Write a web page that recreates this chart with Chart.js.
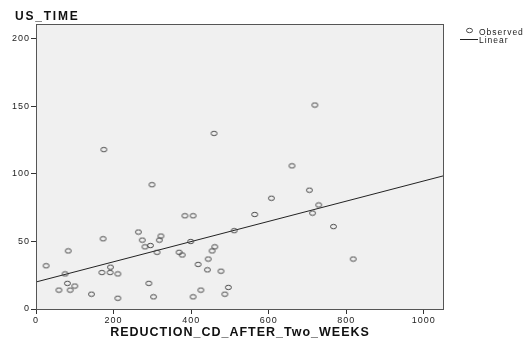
<!DOCTYPE html>
<html>
<head>
<meta charset="utf-8">
<script src="https://cdn.jsdelivr.net/npm/chart.js@4.4.0/dist/chart.umd.min.js"></script>
<style>
  html, body { margin: 0; padding: 0; background: #fff; }
  #wrap { width: 527px; height: 340px; }
</style>
</head>
<body>
<div id="wrap"><canvas id="myChart"></canvas></div>
<script>
// observed points (REDUCTION_CD_AFTER_Two_WEEKS vs US_TIME)
const obsX = [26, 175, 459, 299, 384, 405, 264, 173, 274, 322, 318, 281, 295, 399, 461, 454, 83, 312, 369, 377,
  192, 75, 170, 191, 211, 418, 444, 442, 477, 81, 291, 59, 88, 100, 143, 211, 303, 405, 425, 487, 496,
  719, 660, 705, 607, 729, 713, 564, 511, 767, 818];
const obsY = [32, 118, 130, 92, 69, 69, 57, 52, 51, 54, 51, 46, 47, 50, 46, 43, 43, 42, 42, 40,
  31, 26, 27, 27, 26, 33, 37, 29, 28, 19, 19, 14, 14, 17, 11, 8, 9, 9, 14, 11, 16,
  151, 106, 88, 82, 77, 71, 70, 58, 61, 37];
// linear fit end points
const lineX = [0, 1052];
const lineY = [20, 98.7];
const xTicks = [0, 200, 400, 600, 800, 1000];
const yTicks = [0, 50, 100, 150, 200];

const FONT = '"Liberation Sans", Arial, sans-serif';

// little ellipse marker (the original is a bit stretched sideways)
function makeMarker() {
  const c = document.createElement('canvas');
  c.width = 9; c.height = 7;
  const g = c.getContext('2d');
  g.strokeStyle = '#444';
  g.lineWidth = 1;
  g.beginPath();
  g.ellipse(4.5, 3.5, 3, 2.2, 0, 0, Math.PI * 2);
  g.stroke();
  return c;
}
const marker = makeMarker();

const spssLook = {
  id: 'spssLook',
  beforeLayout(chart) { chart.ctx.letterSpacing = '1px'; },
  beforeDraw(chart) {
    const { ctx, chartArea: a } = chart;
    ctx.letterSpacing = '1px';
    ctx.save();
    ctx.fillStyle = '#f0f0f0';
    ctx.fillRect(a.left, a.top, a.right - a.left, a.bottom - a.top);
    ctx.restore();
  },
  afterDraw(chart) {
    const { ctx, chartArea: a } = chart;
    ctx.save();
    ctx.strokeStyle = '#555';
    ctx.lineWidth = 1;
    ctx.strokeRect(a.left + 0.5, a.top + 0.5, a.right - a.left - 1, a.bottom - a.top);
    // y title at top-left
    ctx.fillStyle = '#111';
    ctx.font = 'bold 12px ' + FONT;
    ctx.letterSpacing = '1.8px';
    ctx.textBaseline = 'alphabetic';
    ctx.fillText('US_TIME', 15, 20);
    // legend
    ctx.font = '8.5px ' + FONT;
    ctx.letterSpacing = '1px';
    ctx.fillStyle = '#222';
    ctx.drawImage(marker, 465, 27);
    ctx.fillText('Observed', 479, 34.5);
    ctx.strokeStyle = '#222';
    ctx.beginPath();
    ctx.moveTo(460, 39.5);
    ctx.lineTo(478, 39.5);
    ctx.stroke();
    ctx.fillText('Linear', 479, 43);
    ctx.restore();
  }
};

new Chart(document.getElementById('myChart'), {
  type: 'scatter',
  data: {
    datasets: [
      {
        label: 'Observed',
        data: obsX.map((x, i) => ({ x: x, y: obsY[i] })),
        pointStyle: marker,
        pointRadius: 4,
        pointHoverRadius: 4
      },
      {
        label: 'Linear',
        type: 'line',
        data: lineX.map((x, i) => ({ x: x, y: lineY[i] })),
        borderColor: '#222',
        borderWidth: 1,
        pointRadius: 0,
        fill: false
      }
    ]
  },
  options: {
    responsive: true,
    maintainAspectRatio: false,
    animation: false,
    layout: { padding: { top: 24, right: 83, left: 0, bottom: 0 } },
    plugins: { legend: { display: false }, tooltip: { enabled: false } },
    scales: {
      x: {
        type: 'linear',
        min: 0,
        max: 1052,
        afterBuildTicks: (s) => { s.ticks = xTicks.map(v => ({ value: v })); },
        afterFit: (s) => { s.height = 31; },
        grid: { drawOnChartArea: false, drawTicks: true, tickLength: 5, color: '#333' },
        border: { display: false },
        ticks: { font: { family: FONT, size: 9 }, color: '#222', padding: 1, maxRotation: 0, callback: (v) => String(v) },
        title: {
          display: true,
          text: 'REDUCTION_CD_AFTER_Two_WEEKS',
          font: { family: FONT, size: 12.5, weight: 'bold' },
          color: '#111',
          padding: { top: 0, bottom: 0 }
        }
      },
      y: {
        type: 'linear',
        min: 0,
        max: 211,
        afterBuildTicks: (s) => { s.ticks = yTicks.map(v => ({ value: v })); },
        afterFit: (s) => { s.width = 36; },
        grid: { drawOnChartArea: false, drawTicks: true, tickLength: 5, color: '#333' },
        border: { display: false },
        ticks: { font: { family: FONT, size: 9 }, color: '#222', padding: 1, callback: (v) => String(v) }
      }
    }
  },
  plugins: [spssLook]
});
</script>
</body>
</html>
